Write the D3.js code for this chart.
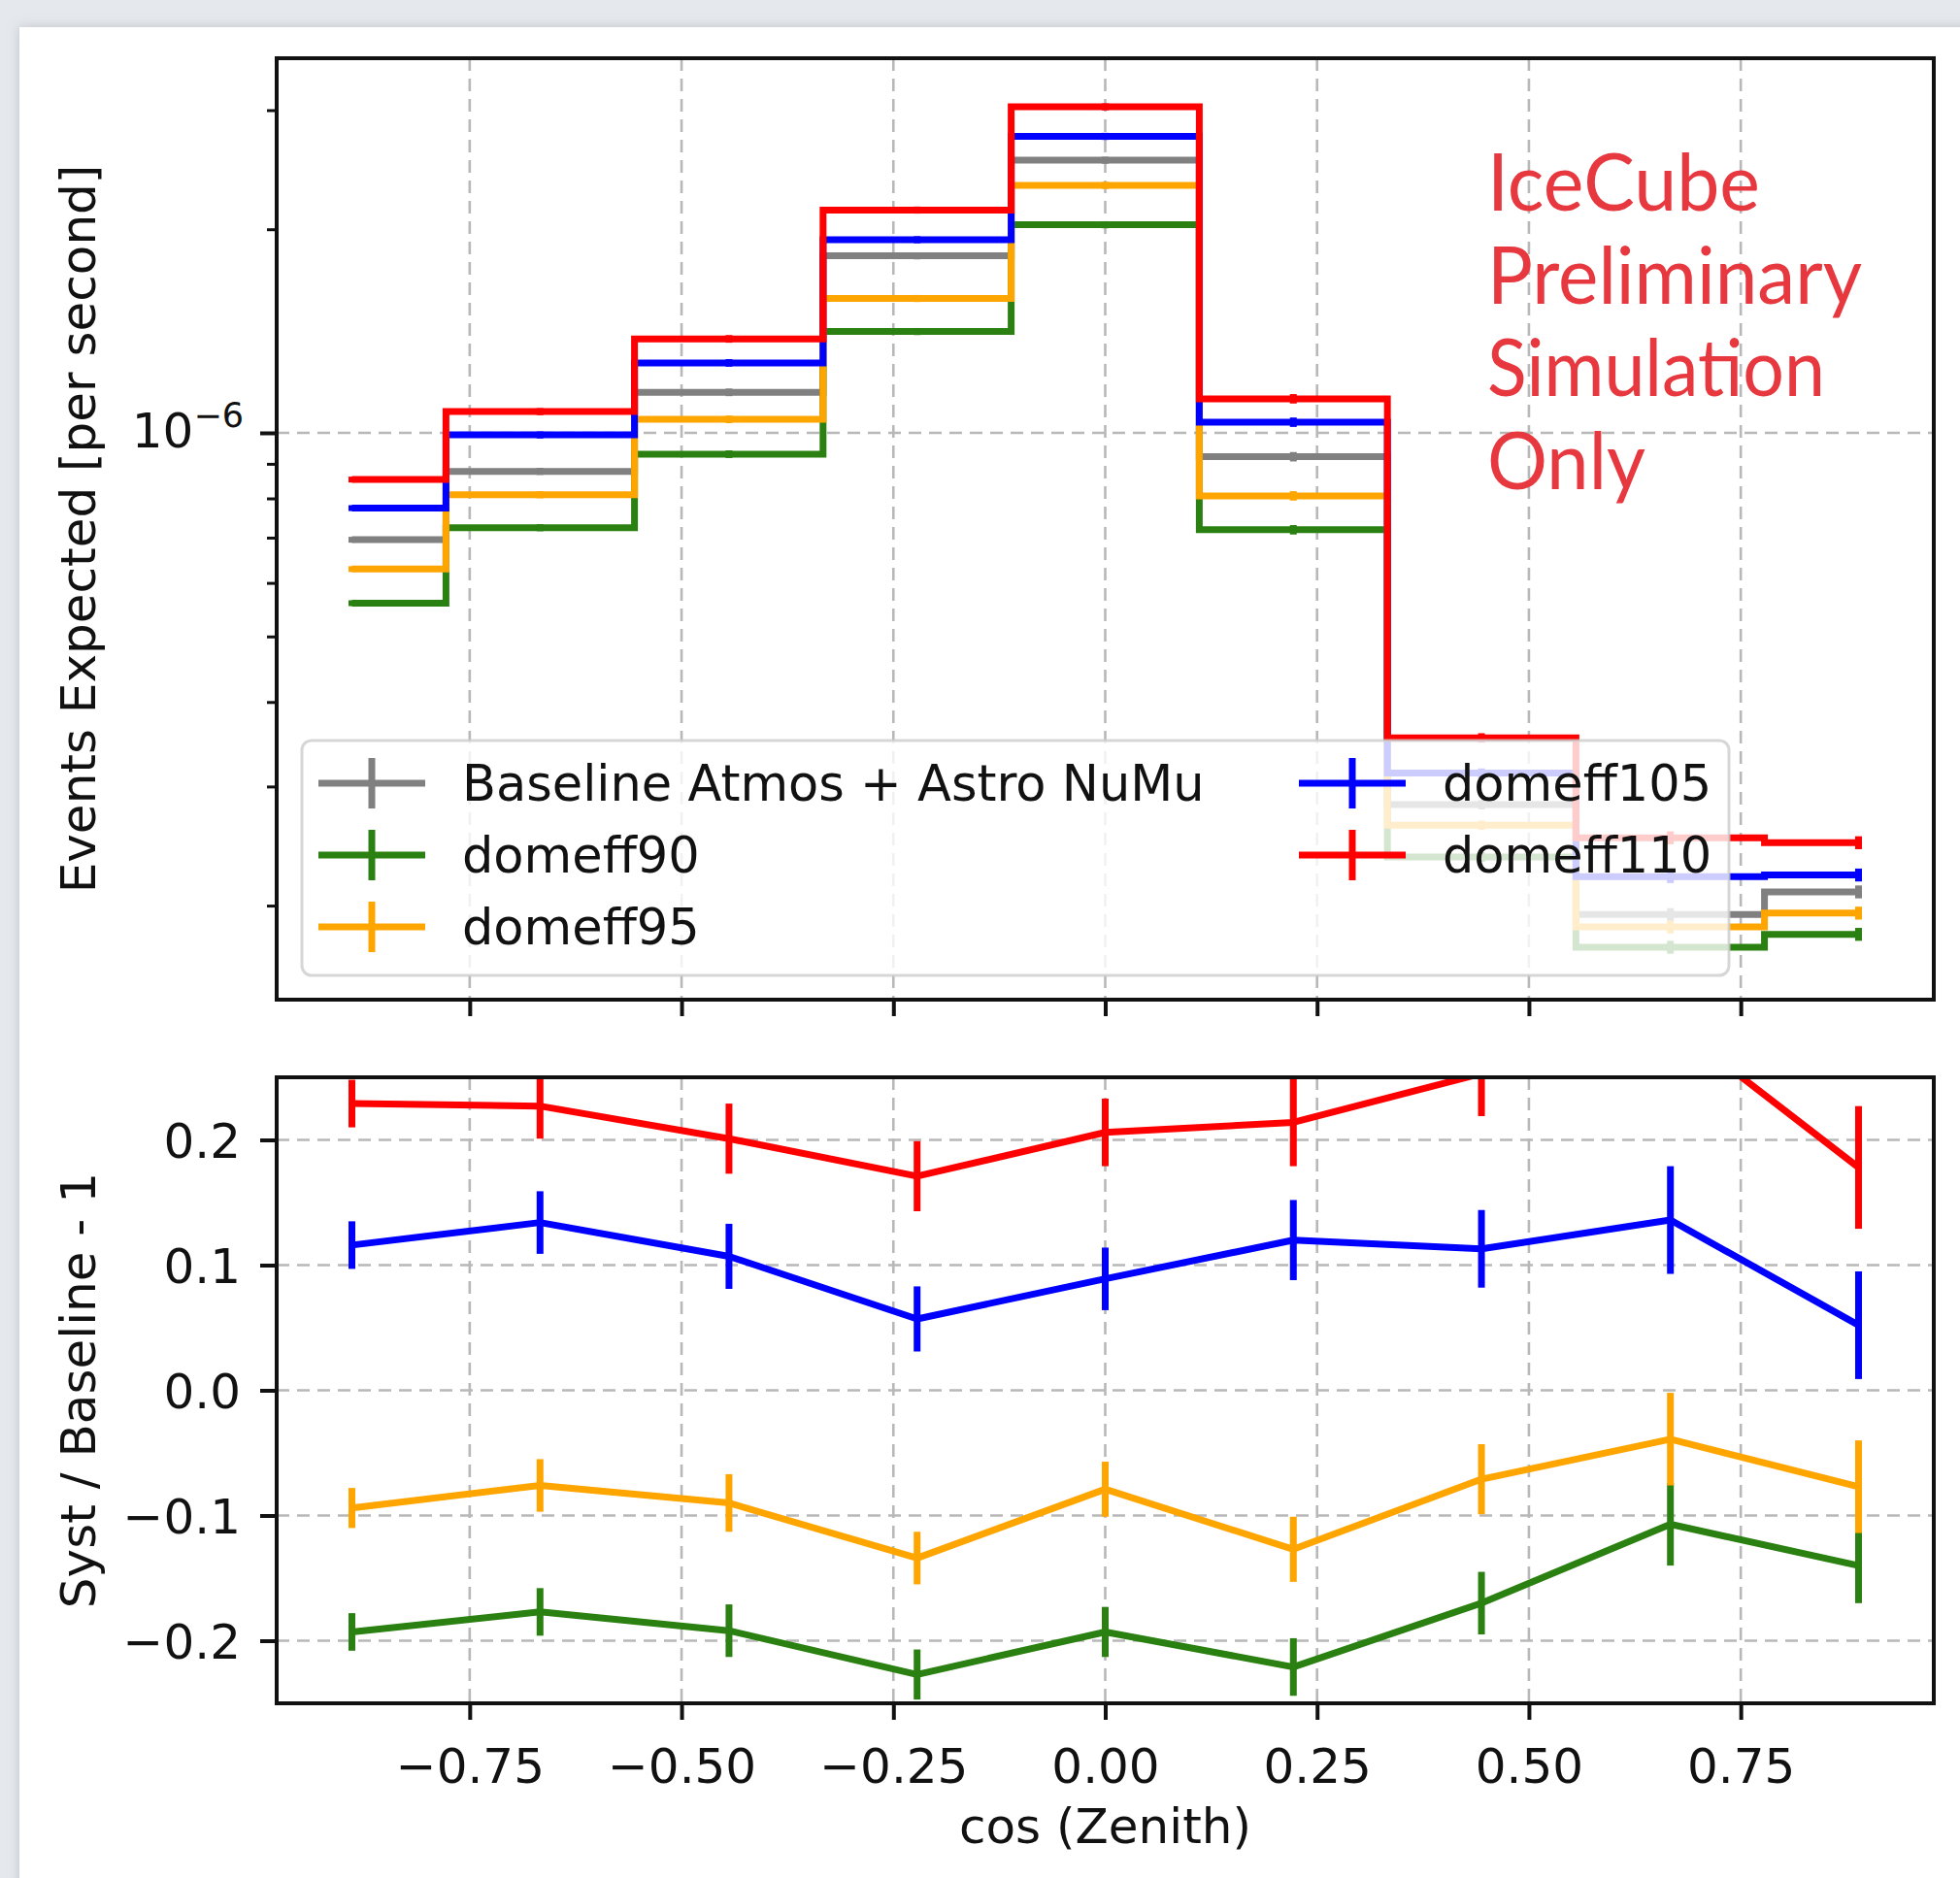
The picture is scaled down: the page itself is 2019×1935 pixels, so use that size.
<!DOCTYPE html>
<html>
<head>
<meta charset="utf-8">
<title>DOM efficiency systematics vs cos(Zenith)</title>
<script src="https://cdn.jsdelivr.net/npm/d3@7"></script>
<style>
    body { margin: 0; background: #e5e8ec; }
    svg { display: block; }
    text { font-family: "DejaVu Sans", sans-serif; fill: #111; }
</style>
</head>
<body>
<svg id="chart" width="2019" height="1935"></svg>
<script>
// ---- data ----
var binCenters = [-0.889, -0.667, -0.444, -0.222, 0.0, 0.222, 0.444, 0.667, 0.889];

// events expected [per second]
var baseline  = [0.695e-6, 0.877e-6, 1.148e-6, 1.827e-6, 2.530e-6, 0.922e-6, 0.282e-6, 0.194e-6, 0.2096e-6];
var domeff90  = [0.560e-6, 0.724e-6, 0.930e-6, 1.412e-6, 2.031e-6, 0.719e-6, 0.236e-6, 0.1736e-6, 0.1814e-6];
var domeff95  = [0.629e-6, 0.810e-6, 1.047e-6, 1.580e-6, 2.322e-6, 0.807e-6, 0.263e-6, 0.186e-6, 0.195e-6];
var domeff105 = [0.774e-6, 0.993e-6, 1.269e-6, 1.930e-6, 2.744e-6, 1.037e-6, 0.314e-6, 0.2208e-6, 0.222e-6];
var domeff110 = [0.853e-6, 1.075e-6, 1.377e-6, 2.135e-6, 3.034e-6, 1.123e-6, 0.354e-6, 0.252e-6, 0.2478e-6];
// relative stat. error per bin (upper panel)
var relErr = [0.010, 0.012, 0.013, 0.012, 0.012, 0.016, 0.016, 0.022, 0.022];

// syst / baseline - 1
var ratio90  = [-0.193, -0.177, -0.192, -0.227, -0.193, -0.221, -0.170, -0.107, -0.140];
var ratio95  = [-0.094, -0.076, -0.090, -0.134, -0.079, -0.127, -0.071, -0.039, -0.077];
var ratio105 = [0.116, 0.134, 0.107, 0.057, 0.089, 0.120, 0.113, 0.136, 0.052];
var ratio110 = [0.229, 0.227, 0.201, 0.171, 0.206, 0.214, 0.253, 0.294, 0.178];
var err90  = [0.015, 0.019, 0.021, 0.020, 0.020, 0.023, 0.025, 0.033, 0.030];
var err95  = [0.016, 0.021, 0.023, 0.021, 0.022, 0.026, 0.028, 0.037, 0.037];
var err105 = [0.019, 0.025, 0.026, 0.026, 0.025, 0.032, 0.031, 0.043, 0.043];
var err110 = [0.019, 0.026, 0.028, 0.028, 0.027, 0.035, 0.034, 0.044, 0.049];

var xTicks = [-0.75, -0.5, -0.25, 0, 0.25, 0.5, 0.75];
var xTickLabels = ["\u22120.75", "\u22120.50", "\u22120.25", "0.00", "0.25", "0.50", "0.75"];
var ratioTicks = [-0.2, -0.1, 0.0, 0.1, 0.2];
var ratioTickLabels = ["\u22120.2", "\u22120.1", "0.0", "0.1", "0.2"];
var logMinorTicks = [2e-7, 3e-7, 4e-7, 5e-7, 6e-7, 7e-7, 8e-7, 9e-7, 2e-6, 3e-6];

var series = [
    {name: "Baseline Atmos + Astro NuMu", color: "#808080", top: baseline},
    {name: "domeff90",  color: "#2a8010", top: domeff90,  ratio: ratio90,  err: err90},
    {name: "domeff95",  color: "#ffa500", top: domeff95,  ratio: ratio95,  err: err95},
    {name: "domeff105", color: "#0000ff", top: domeff105, ratio: ratio105, err: err105},
    {name: "domeff110", color: "#ff0000", top: domeff110, ratio: ratio110, err: err110}
];

// ---- layout ----
var W = 2019, H = 1935;
var left = 285, right = 1992;
var topY0 = 60, topY1 = 1030;
var botY0 = 1110, botY1 = 1755;
var lw = 7;

var svg = d3.select("#chart");

var defs = svg.append("defs");
defs.append("filter").attr("id", "shadow")
    .append("feDropShadow")
    .attr("dx", 0).attr("dy", 0).attr("stdDeviation", 6)
    .attr("flood-color", "#9aa0a8").attr("flood-opacity", 0.5);
defs.append("clipPath").attr("id", "clipTop")
    .append("rect").attr("x", left).attr("y", topY0).attr("width", right - left).attr("height", topY1 - topY0);
defs.append("clipPath").attr("id", "clipBot")
    .append("rect").attr("x", left).attr("y", botY0).attr("width", right - left).attr("height", botY1 - botY0);

// slide backdrop
svg.append("rect").attr("width", W).attr("height", H).attr("fill", "#e5e8ec");
svg.append("rect").attr("x", 20).attr("y", 28).attr("width", W).attr("height", H)
    .attr("fill", "white").attr("filter", "url(#shadow)");

var x = d3.scaleLinear().domain([-0.9778, 0.9778]).range([left, right]);
var yTop = d3.scaleLog().domain([1.452e-7, 3.58e-6]).range([topY1, topY0]);
var yBot = d3.scaleLinear().domain([-0.25, 0.25]).range([botY1, botY0]);

// ---- grids ----
var grid = svg.append("g").attr("stroke", "#b8b8b8").attr("stroke-width", 2.6)
    .attr("stroke-dasharray", "13,8").attr("fill", "none");
xTicks.forEach(function (t) {
    grid.append("line").attr("x1", x(t)).attr("x2", x(t)).attr("y1", topY0).attr("y2", topY1);
    grid.append("line").attr("x1", x(t)).attr("x2", x(t)).attr("y1", botY0).attr("y2", botY1);
});
grid.append("line").attr("x1", left).attr("x2", right).attr("y1", yTop(1e-6)).attr("y2", yTop(1e-6));
ratioTicks.forEach(function (t) {
    grid.append("line").attr("x1", left).attr("x2", right).attr("y1", yBot(t)).attr("y2", yBot(t));
});

// ---- upper panel: step histograms ----
var stepLine = d3.line()
    .x(function (d, i) { return x(binCenters[i]); })
    .y(function (d) { return yTop(d); })
    .curve(d3.curveStep);

var topG = svg.append("g").attr("clip-path", "url(#clipTop)");
series.forEach(function (s) {
    var g = topG.append("g");
    g.append("path").attr("d", stepLine(s.top))
        .attr("fill", "none").attr("stroke", s.color).attr("stroke-width", lw)
        .attr("stroke-linejoin", "miter");
    g.selectAll("line").data(s.top).enter().append("line")
        .attr("x1", function (d, i) { return x(binCenters[i]); })
        .attr("x2", function (d, i) { return x(binCenters[i]); })
        .attr("y1", function (d, i) { return yTop(d * (1 - relErr[i])); })
        .attr("y2", function (d, i) { return yTop(d * (1 + relErr[i])); })
        .attr("stroke", s.color).attr("stroke-width", lw);
});

// ---- legend ----
var leg = svg.append("g");
leg.append("rect").attr("x", 311).attr("y", 763).attr("width", 1470).attr("height", 242)
    .attr("rx", 10).attr("fill", "white").attr("fill-opacity", 0.8)
    .attr("stroke", "#cccccc").attr("stroke-opacity", 0.8).attr("stroke-width", 3);
var legPos = [[328, 807], [328, 881], [328, 955], [1338, 807], [1338, 881]];
series.forEach(function (s, i) {
    var px = legPos[i][0], py = legPos[i][1];
    var g = leg.append("g");
    g.append("line").attr("x1", px).attr("x2", px + 110).attr("y1", py).attr("y2", py)
        .attr("stroke", s.color).attr("stroke-width", lw);
    g.append("line").attr("x1", px + 55).attr("x2", px + 55).attr("y1", py - 26).attr("y2", py + 26)
        .attr("stroke", s.color).attr("stroke-width", lw);
    g.append("text").attr("x", px + 148).attr("y", py + 18)
        .attr("font-size", "51px").text(s.name);
});

// ---- lower panel: ratios ----
var ratioLine = d3.line()
    .x(function (d, i) { return x(binCenters[i]); })
    .y(function (d) { return yBot(d); });

var botG = svg.append("g").attr("clip-path", "url(#clipBot)");
series.slice(1).forEach(function (s) {
    var g = botG.append("g");
    g.append("path").attr("d", ratioLine(s.ratio))
        .attr("fill", "none").attr("stroke", s.color).attr("stroke-width", lw)
        .attr("stroke-linejoin", "round");
    g.selectAll("line").data(s.ratio).enter().append("line")
        .attr("x1", function (d, i) { return x(binCenters[i]); })
        .attr("x2", function (d, i) { return x(binCenters[i]); })
        .attr("y1", function (d, i) { return yBot(d - s.err[i]); })
        .attr("y2", function (d, i) { return yBot(d + s.err[i]); })
        .attr("stroke", s.color).attr("stroke-width", lw);
});

// ---- frames ----
[[topY0, topY1], [botY0, botY1]].forEach(function (p) {
    svg.append("rect").attr("x", left).attr("y", p[0])
        .attr("width", right - left).attr("height", p[1] - p[0])
        .attr("fill", "none").attr("stroke", "#111").attr("stroke-width", 4);
});

// ---- axes ----
function styleAxis(g, w) {
    g.select(".domain").remove();
    g.selectAll(".tick line").attr("stroke", "#111").attr("stroke-width", w);
}

// x ticks under the top panel, no labels
svg.append("g").attr("transform", "translate(0," + topY1 + ")")
    .call(d3.axisBottom(x).tickValues(xTicks).tickSize(17).tickFormat(""))
    .call(styleAxis, 4);

// x axis of the lower panel
svg.append("g").attr("transform", "translate(0," + botY1 + ")")
    .call(d3.axisBottom(x).tickValues(xTicks).tickSize(17)
        .tickFormat(function (d, i) { return xTickLabels[i]; }))
    .call(styleAxis, 4)
    .call(function (g) {
        g.selectAll(".tick text").attr("y", 82).attr("dy", null)
            .attr("font-size", "50px").attr("fill", "#111");
    });

// log y axis, major tick with 10^-6 label
svg.append("g").attr("transform", "translate(" + left + ",0)")
    .call(d3.axisLeft(yTop).tickValues([1e-6]).tickSize(17).tickPadding(17).tickFormat(""))
    .call(styleAxis, 4)
    .call(function (g) {
        var t = g.select(".tick text").attr("font-size", "50px").attr("dy", "0.3em").attr("fill", "#111");
        t.append("tspan").text("10");
        t.append("tspan").attr("font-size", "35px").attr("dy", "-0.62em").text("\u22126");
    });

// minor log ticks
svg.append("g").attr("transform", "translate(" + left + ",0)")
    .call(d3.axisLeft(yTop).tickValues(logMinorTicks).tickSize(10).tickFormat(""))
    .call(styleAxis, 3);

// ratio y axis
svg.append("g").attr("transform", "translate(" + left + ",0)")
    .call(d3.axisLeft(yBot).tickValues(ratioTicks).tickSize(17).tickPadding(20)
        .tickFormat(function (d, i) { return ratioTickLabels[i]; }))
    .call(styleAxis, 4)
    .call(function (g) {
        g.selectAll(".tick text").attr("font-size", "50px").attr("dy", "0.36em").attr("fill", "#111");
    });

// ---- axis labels ----
svg.append("text").attr("x", (left + right) / 2).attr("y", 1899)
    .attr("text-anchor", "middle").attr("font-size", "50px").text("cos (Zenith)");
svg.append("text").attr("transform", "translate(98," + (topY0 + topY1) / 2 + ") rotate(-90)")
    .attr("text-anchor", "middle").attr("font-size", "50px").text("Events Expected [per second]");
svg.append("text").attr("transform", "translate(98," + (botY0 + botY1) / 2 + ") rotate(-90)")
    .attr("text-anchor", "middle").attr("font-size", "50px").text("Syst / Baseline - 1");

// ---- watermark ----
var stamp = ["IceCube", "Preliminary", "Simulation", "Only"];
var stampWidth = [281, 386, 348, 163];
svg.append("g").selectAll("text").data(stamp).enter().append("text")
    .attr("x", 1532)
    .attr("y", function (d, i) { return 217 + i * 95.7; })
    .attr("textLength", function (d, i) { return stampWidth[i]; })
    .attr("lengthAdjust", "spacingAndGlyphs")
    .style("font-family", "Lato, 'Open Sans', sans-serif")
    .style("font-size", "81px")
    .style("fill", "#e8383f")
    .text(function (d) { return d; });
</script>
</body>
</html>
